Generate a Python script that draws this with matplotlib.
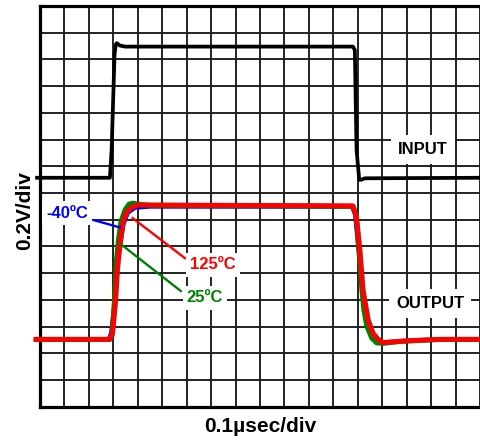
import matplotlib

matplotlib.use("Agg")
import matplotlib.pyplot as plt

# all values in scope divisions (x: 0.1 usec/div, y: 0.2 V/div)
input_t = [-0.12, 2.86, 2.93, 3.05, 3.10, 3.14, 3.27, 3.48, 12.80, 12.88, 12.95, 13.06, 13.15, 13.29, 18.0]
input_v = [8.57, 8.57, 9.61, 13.20, 13.55, 13.61, 13.52, 13.48, 13.48, 13.35, 9.61, 8.49, 8.50, 8.55, 8.57]

blue_t = [-0.16, 2.80, 2.90, 3.05, 3.15, 3.27, 3.42, 3.60, 3.89, 4.50, 12.76, 12.88, 13.02, 13.17, 13.29, 13.46, 13.70, 13.99, 15.0, 18.0]
blue_v = [2.52, 2.52, 2.76, 4.00, 5.12, 5.99, 6.81, 7.25, 7.44, 7.48, 7.48, 7.18, 5.86, 4.37, 3.43, 2.87, 2.54, 2.42, 2.47, 2.52]

green_t = [-0.16, 2.86, 2.95, 3.05, 3.13, 3.21, 3.31, 3.48, 3.64, 3.80, 4.01, 4.50, 12.80, 12.93, 13.05, 13.17, 13.25, 13.37, 13.57, 13.77, 14.03, 14.72, 16.36, 18.0]
green_v = [2.52, 2.52, 2.72, 4.00, 5.49, 6.24, 6.92, 7.37, 7.58, 7.62, 7.58, 7.54, 7.50, 7.18, 5.86, 4.37, 3.62, 3.02, 2.57, 2.39, 2.37, 2.44, 2.52, 2.52]

red_t = [-0.16, 2.86, 2.97, 3.10, 3.17, 3.27, 3.40, 3.56, 3.76, 4.01, 4.50, 12.80, 12.95, 13.09, 13.22, 13.29, 13.43, 13.63, 13.82, 14.04, 15.0, 16.36, 18.0]
red_v = [2.52, 2.52, 2.72, 4.00, 5.12, 5.99, 6.88, 7.29, 7.46, 7.55, 7.55, 7.52, 7.12, 5.86, 4.37, 4.00, 3.25, 2.75, 2.54, 2.40, 2.47, 2.52, 2.52]

# temperature labels: text position and leader line
temp_labels = ["-40ºC", "125ºC", "25ºC"]
temp_colors = ["#0000ff", "#ff0000", "#008000"]
temp_text_xy = [(1.12, 7.25), (7.08, 5.31), (6.75, 4.07)]
temp_lead_x = [(2.22, 3.27), (3.79, 5.93), (3.34, 5.76)]
temp_lead_y = [(6.98, 6.71), (7.06, 5.56), (6.06, 4.33)]

plt.rcParams["font.family"] = ["Liberation Sans", "DejaVu Sans"]

fig = plt.figure(figsize=(4.8, 4.41), dpi=100)
ax = fig.add_axes([40 / 480, 34.3 / 441, 440 / 480, 400.7 / 441])
ax.set_xlim(0, 18)
ax.set_ylim(0, 15)
ax.set_xticks(range(0, 19))
ax.set_yticks(range(0, 16))
ax.tick_params(length=0, labelbottom=False, labelleft=False)
ax.grid(True, color="#1a1a1a", lw=1.35)
ax.set_axisbelow(True)
for side in ["left", "top", "bottom"]:
    ax.spines[side].set_linewidth(2.3)
ax.spines["right"].set_visible(False)

ax.plot(input_t, input_v, color="black", lw=2.7, clip_on=False, zorder=3)
ax.plot(blue_t, blue_v, color="#0000ff", lw=2.6, clip_on=False, zorder=3)
ax.plot(green_t, green_v, color="#008000", lw=3.6, clip_on=False, zorder=4)
ax.plot(red_t, red_v, color="#ff0000", lw=3.5, clip_on=False, zorder=5)

box = dict(facecolor="white", edgecolor="none", pad=3)
for lab, col, (tx, ty), lx, ly in zip(temp_labels, temp_colors, temp_text_xy, temp_lead_x, temp_lead_y):
    ax.plot(lx, ly, color=col, lw=1.7, zorder=6)
    ax.text(tx, ty, lab, color=col, fontsize=12, fontweight="bold",
            ha="center", va="center", bbox=box, zorder=7)

ax.text(15.66, 9.61, "INPUT", fontsize=12, fontweight="bold", ha="center", va="center",
        bbox=dict(facecolor="white", edgecolor="none", pad=5), zorder=7)
ax.text(15.95, 3.88, "OUTPUT", fontsize=12, fontweight="bold", ha="center", va="center",
        bbox=dict(facecolor="white", edgecolor="none", pad=5), zorder=7)

fig.text(260 / 480, 1 - 427 / 441, "0.1µsec/div", fontsize=15, fontweight="bold",
         ha="center", va="center")
fig.text(25 / 480, 1 - 211 / 441, "0.2V/div", fontsize=15, fontweight="bold",
         ha="center", va="center", rotation=90)

fig.savefig("out.png", dpi=100)
